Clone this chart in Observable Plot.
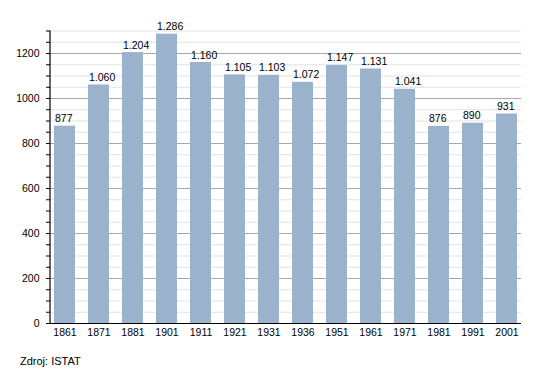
<!DOCTYPE html>
<html>
<head>
<meta charset="utf-8">
<script src="https://cdn.jsdelivr.net/npm/d3@7"></script>
<script src="https://cdn.jsdelivr.net/npm/@observablehq/plot@0.6"></script>
<style>
  html, body { margin: 0; padding: 0; background: #fff; }
  #chart svg { display: block; }
  #caption { font-family: "Liberation Sans", Arial, sans-serif; font-size: 11px; line-height: 13px; color: #000; padding-left: 20px; margin-top: 10px; }
</style>
</head>
<body>
<div id="chart"></div>
<div id="caption">Zdroj: ISTAT</div>
<script>
const years = ["1861","1871","1881","1901","1911","1921","1931","1936","1951","1961","1971","1981","1991","2001"];
const population = [877, 1060, 1204, 1286, 1160, 1105, 1103, 1072, 1147, 1131, 1041, 876, 890, 931];
const yLabelTicks = [0, 200, 400, 600, 800, 1000, 1200];
const yMinorTicks = d3.range(0, 1301, 50);
const yMax = 1300;

const data = years.map((y, i) => ({year: y, value: population[i]}));
const fmt = d3.formatLocale({decimal: ",", thousands: ".", grouping: [3], currency: ["", "€"]}).format(",");

const minorOnly = yMinorTicks.filter(v => v % 200 !== 0);

const yAxisLine = (index, scales, values, dims) => {
  const ns = "http://www.w3.org/2000/svg";
  const line = document.createElementNS(ns, "line");
  line.setAttribute("x1", dims.marginLeft);
  line.setAttribute("x2", dims.marginLeft);
  line.setAttribute("y1", scales.y(0));
  line.setAttribute("y2", scales.y(yMax));
  line.setAttribute("stroke", "#000");
  line.setAttribute("stroke-width", 1.2);
  return line;
};

const chart = Plot.plot({
  width: 550,
  height: 345,
  marginTop: 30.5,
  marginBottom: 22,
  marginLeft: 50,
  marginRight: 29,
  style: {fontFamily: "'Liberation Sans', Arial, sans-serif", fontSize: "10px", color: "#000", background: "#fff"},
  x: {domain: years, paddingInner: 0.39, paddingOuter: 0.04, label: null},
  y: {domain: [0, yMax], label: null},
  marks: [
    Plot.ruleY(minorOnly, {stroke: "#e2e2e2", strokeWidth: 1}),
    Plot.ruleY(yLabelTicks.filter(v => v > 0), {stroke: "#a8a8a8", strokeWidth: 1}),
    Plot.barY(data, {x: "year", y: "value", fill: "#9ab2cc"}),
    Plot.text(data, {x: "year", y: "value", text: d => fmt(d.value), textAnchor: "start", lineAnchor: "bottom", dx: -10, dy: -4, fill: "#000", fontSize: 10.5}),
    Plot.axisX({tickSize: 0, tickPadding: 5, label: null, fontSize: 10.5}),
    Plot.axisY({ticks: yMinorTicks, tickSize: 4, tickFormat: () => "", label: null, stroke: "#000"}),
    Plot.axisY({ticks: yLabelTicks, tickSize: 0, tickPadding: 11, tickFormat: d => String(d), label: null, fontSize: 10.5}),
    Plot.ruleY([0], {stroke: "#000", strokeWidth: 1.2}),
    yAxisLine
  ]
});
document.getElementById("chart").appendChild(chart);
</script>
</body>
</html>
